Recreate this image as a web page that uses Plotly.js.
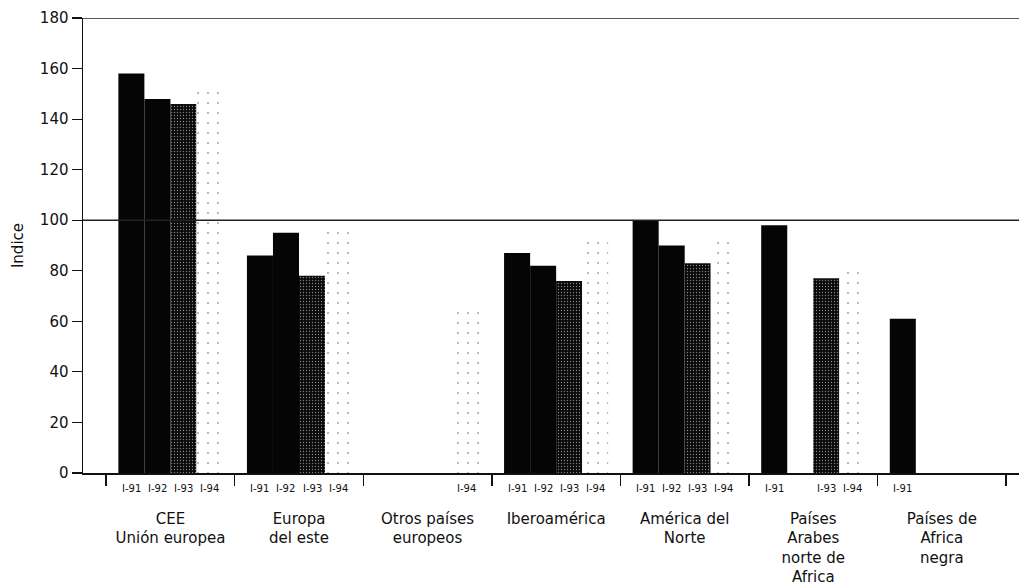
<!DOCTYPE html>
<html>
<head>
<meta charset="utf-8">
<script src="https://cdn.plot.ly/plotly-3.0.1.min.js"></script>
<style>html,body{margin:0;padding:0;background:#fff;}#chart{width:1019px;height:586px;}</style>
</head>
<body>
<div id="chart"></div>
<script>
// ---- data ----
const categories = [
  "CEE<br>Unión europea",
  "Europa<br>del este",
  "Otros países<br>europeos",
  "Iberoamérica",
  "América del<br>Norte",
  "Países<br>Arabes<br>norte de<br>Africa",
  "Países de<br>Africa<br>negra"
];
const periods = ["I-91", "I-92", "I-93", "I-94"];
const i91 = [158, 86, null, 87, 100, 98, 61];
const i92 = [148, 95, null, 82, 90, null, null];
const i93 = [146, 78, null, 76, 83, 77, null];
const i94 = [152, 96, 66, 94, 93, 81, null];
const referenceLines = [100, 180];
const yTicks = [0, 20, 40, 60, 80, 100, 120, 140, 160, 180];

const series = [i91, i92, i93, i94];
const FONT = "DejaVu Sans, Liberation Sans, Arial, sans-serif";
const BARGAP = 0.19;

const styles = [
  {color: "#050505"},
  {color: "#050505"},
  {color: "#0a0a0a", pattern: {shape: ".", fillmode: "overlay", fgcolor: "#ffffff", size: 3, solidity: 0.15}},
  {color: "#ffffff", pattern: {shape: ".", fillmode: "overlay", fgcolor: "#444444", size: 10, solidity: 0.03}}
];

const traces = series.map((vals, j) => ({
  type: "bar",
  name: periods[j],
  x: categories,
  y: vals,
  marker: Object.assign({line: {width: 0}}, styles[j]),
  hoverinfo: "x+y+name"
}));

// sub labels under each existing bar, positioned from the group layout
const n = periods.length;
const barW = (1 - BARGAP) / n;
const annotations = [];
series.forEach((vals, j) => {
  vals.forEach((v, i) => {
    if (v === null) return;
    annotations.push({
      x: i - (1 - BARGAP) / 2 + (j + 0.5) * barW,
      y: 0, xref: "x", yref: "y",
      text: periods[j], showarrow: false,
      yanchor: "top", yshift: -8,
      font: {family: FONT, size: 10, color: "#111"}
    });
  });
});

const shapes = referenceLines.map(v => ({
  type: "line", xref: "paper", yref: "y",
  x0: 0, x1: 1, y0: v, y1: v,
  line: {color: "#222", width: 1.5},
  layer: "above"
}));

const layout = {
  width: 1019, height: 586,
  margin: {l: 83, r: 0, t: 18, b: 113},
  paper_bgcolor: "#ffffff", plot_bgcolor: "#ffffff",
  barmode: "group", bargap: BARGAP, bargroupgap: 0,
  showlegend: false,
  font: {family: FONT, color: "#111"},
  xaxis: {
    type: "category",
    range: [-0.68, 6.6],
    showline: true, linecolor: "#111", linewidth: 1.5,
    ticks: "outside", tickson: "boundaries", ticklen: 11, tickcolor: "#111", tickwidth: 1.5,
    ticklabelstandoff: 31,
    tickfont: {family: FONT, size: 15, color: "#111"},
    showgrid: false, zeroline: false, fixedrange: true
  },
  yaxis: {
    range: [0, 180],
    tickvals: yTicks,
    showline: true, linecolor: "#111", linewidth: 1.5,
    ticks: "outside", ticklen: 10, tickcolor: "#111", tickwidth: 1.2,
    tickfont: {family: FONT, size: 15, color: "#111"},
    showgrid: false, zeroline: false,
    title: {text: "Indice", font: {family: FONT, size: 15, color: "#111"}, standoff: 12},
    fixedrange: true
  },
  annotations: annotations,
  shapes: shapes
};

Plotly.newPlot("chart", traces, layout, {displayModeBar: false, staticPlot: true});
</script>
</body>
</html>
